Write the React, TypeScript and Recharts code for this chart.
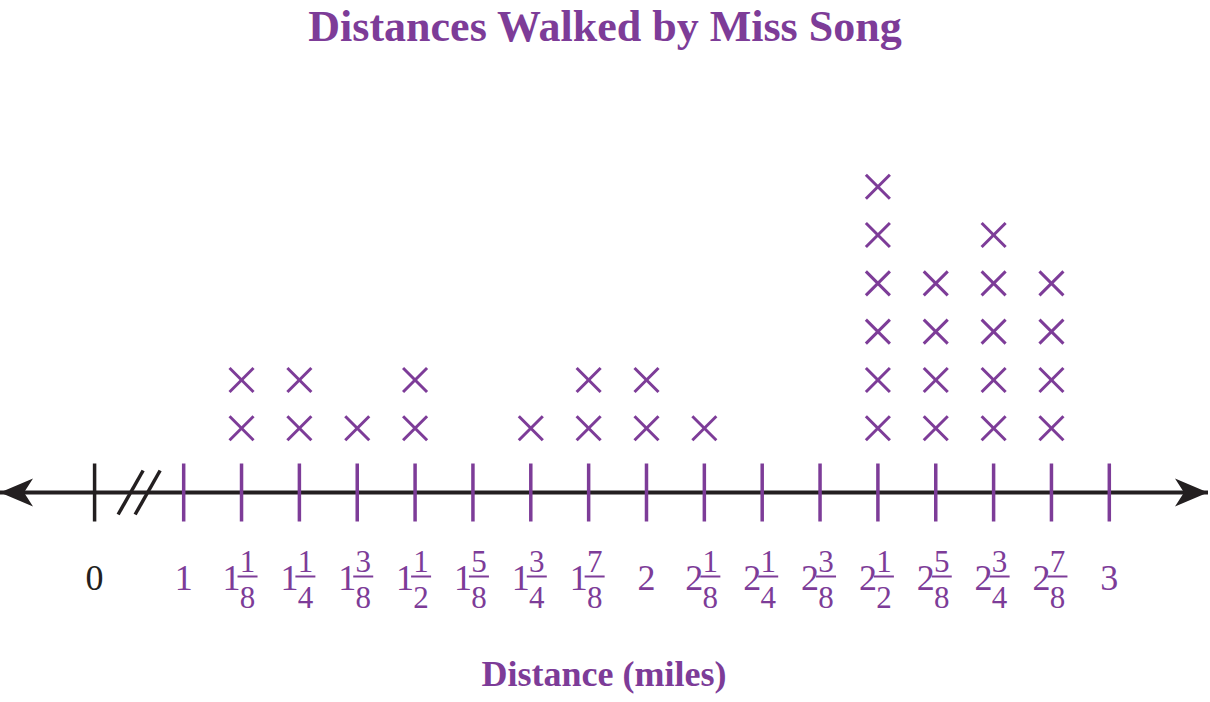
import React from "react";
import { ScatterChart, Scatter, XAxis, YAxis, ReferenceDot } from "recharts";

// distances in eighths of a mile, with the labels printed under the line
const distanceEighths = [0, 8, 9, 10, 11, 12, 13, 14, 15, 16, 17, 18, 19, 20, 21, 22, 23, 24];
const distanceLabels = [
  "0", "1", "1 1/8", "1 1/4", "1 3/8", "1 1/2", "1 5/8", "1 3/4", "1 7/8",
  "2", "2 1/8", "2 1/4", "2 3/8", "2 1/2", "2 5/8", "2 3/4", "2 7/8", "3",
];
// how many walks of each distance (X marks)
const walkCounts = [0, 0, 2, 2, 1, 2, 0, 1, 2, 2, 1, 0, 0, 6, 4, 5, 4, 0];

const PURPLE = "#7D3C98";
const BLACK = "#231F20";
const FONT = "'Liberation Serif', serif";

// the line is broken between 0 and 1, so 0 sits at its own spot left of 1
const ZERO_POS = -1.54;
const BREAK_POS = ZERO_POS / 2;
const X_DOMAIN: [number, number] = [-3.175, 17.706];
const Y_DOMAIN: [number, number] = [-0.33, 8.21];

const toPos = (eighths: number) => (eighths === 0 ? ZERO_POS : eighths - 8);

const tickPositions = distanceEighths.map(toPos);
const labelByPos = new Map(tickPositions.map((p, i) => [p, distanceLabels[i]]));

const marks = distanceEighths.flatMap((e, i) =>
  Array.from({ length: walkCounts[i] }, (_, k) => ({ x: toPos(e), y: k + 1 }))
);

const XMark = (props: any) => {
  const { cx, cy } = props;
  const h = 12;
  return (
    <g stroke={PURPLE} strokeWidth={3}>
      <line x1={cx - h} y1={cy - h} x2={cx + h} y2={cy + h} />
      <line x1={cx - h} y1={cy + h} x2={cx + h} y2={cy - h} />
    </g>
  );
};

const DistanceTick = (props: any) => {
  const { x, y, payload } = props;
  const label = labelByPos.get(payload.value) ?? "";
  const isZero = label === "0";
  const color = isZero ? BLACK : PURPLE;
  const parts = label.split(" ");
  const tick = <line x1={x} x2={x} y1={y - 29} y2={y + 29} stroke={color} strokeWidth={3.5} />;
  if (parts.length === 1) {
    return (
      <g>
        {tick}
        <text x={x} y={y + 97} textAnchor="middle" fontSize={36} fontFamily={FONT} fill={color}>
          {label}
        </text>
      </g>
    );
  }
  const [num, den] = parts[1].split("/");
  return (
    <g>
      {tick}
      <text x={x - 10} y={y + 97} textAnchor="middle" fontSize={36} fontFamily={FONT} fill={color}>
        {parts[0]}
      </text>
      <text x={x + 6} y={y + 79} textAnchor="middle" fontSize={31} fontFamily={FONT} fill={color}>
        {num}
      </text>
      <line x1={x - 4} x2={x + 16} y1={y + 84} y2={y + 84} stroke={color} strokeWidth={2} />
      <text x={x + 6} y={y + 115} textAnchor="middle" fontSize={31} fontFamily={FONT} fill={color}>
        {den}
      </text>
    </g>
  );
};

const LeftArrow = (props: any) => {
  const { cx, cy } = props;
  return <path d={`M${cx} ${cy} L${cx + 33} ${cy - 14} L${cx + 24} ${cy} L${cx + 33} ${cy + 14} Z`} fill={BLACK} />;
};

const RightArrow = (props: any) => {
  const { cx, cy } = props;
  return <path d={`M${cx} ${cy} L${cx - 33} ${cy - 14} L${cx - 24} ${cy} L${cx - 33} ${cy + 14} Z`} fill={BLACK} />;
};

const BreakMarks = (props: any) => {
  const { cx, cy } = props;
  return (
    <g stroke={BLACK} strokeWidth={3.5}>
      <line x1={cx - 21} y1={cy + 22} x2={cx + 4} y2={cy - 22} />
      <line x1={cx - 4} y1={cy + 22} x2={cx + 21} y2={cy - 22} />
    </g>
  );
};

export default function App() {
  return (
    <div style={{ position: "absolute", left: 0, top: 0, width: 1210, height: 702, background: "#fff" }}>
      <div
        style={{
          position: "absolute", top: 5, left: 0, width: 1210, textAlign: "center",
          fontFamily: FONT, fontWeight: "bold", fontSize: 44, lineHeight: 1, color: PURPLE,
        }}
      >
        Distances Walked by Miss Song
      </div>
      <ScatterChart width={1210} height={702} margin={{ top: 80, right: 2, bottom: 89.5, left: 0 }}>
        <XAxis
          type="number"
          dataKey="x"
          domain={X_DOMAIN}
          ticks={tickPositions}
          interval={0}
          allowDataOverflow
          height={120}
          tickLine={false}
          tickSize={0}
          tickMargin={0}
          axisLine={{ stroke: BLACK, strokeWidth: 4 }}
          tick={<DistanceTick />}
          label={{
            value: "Distance (miles)", position: "bottom", offset: 48,
            fill: PURPLE, fontSize: 36, fontWeight: "bold", fontFamily: FONT,
          }}
        />
        <YAxis type="number" dataKey="y" domain={Y_DOMAIN} hide allowDataOverflow />
        <ReferenceDot x={X_DOMAIN[0]} y={Y_DOMAIN[0]} ifOverflow="visible" shape={<LeftArrow />} />
        <ReferenceDot x={X_DOMAIN[1]} y={Y_DOMAIN[0]} ifOverflow="visible" shape={<RightArrow />} />
        <ReferenceDot x={BREAK_POS} y={Y_DOMAIN[0]} ifOverflow="visible" shape={<BreakMarks />} />
        <Scatter data={marks} shape={<XMark />} isAnimationActive={false} />
      </ScatterChart>
    </div>
  );
}
